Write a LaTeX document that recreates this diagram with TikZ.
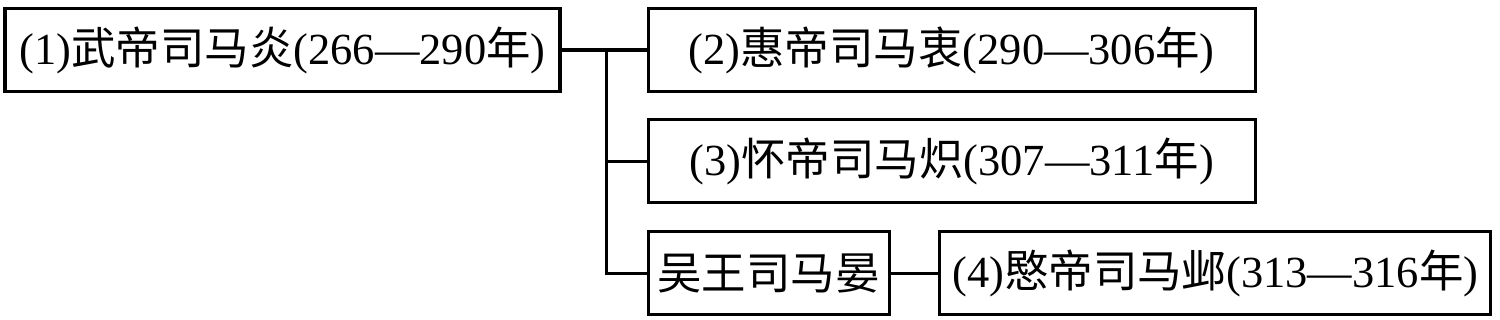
\documentclass[tikz,border=0pt]{standalone}
\usepackage{fontspec}
\setmainfont{Liberation Serif}
\newfontfamily\cjk{Noto Sans CJK SC}
\usetikzlibrary{positioning, calc}
\newcommand{\zh}[1]{{\cjk #1}}
\tikzset{
	ruler/.style={rectangle, draw=black, line width=1.8pt, minimum height=1.66cm, inner sep=2pt, align=center, font=\fontsize{25.3}{28}\selectfont},
	link/.style ={line width=1.8pt},
}

\begin{document}
\begin{tikzpicture}
	\useasboundingbox (0,0) rectangle (30,6.38);
	\node[ruler, minimum width=11.1cm] (wudi) at (5.65,5.38) {(1)\zh{武帝司马炎}(266—290\zh{年})};
	\node[ruler, minimum width=12.14cm, right=1.7cm of wudi] (huidi) {(2)\zh{惠帝司马衷}(290—306\zh{年})};
	\node[ruler, minimum width=12.14cm, below=0.5cm of huidi] (huaidi) {(3)\zh{怀帝司马炽}(307—311\zh{年})};
	\node[ruler, minimum width=4.82cm, below=0.52cm of huaidi.south west, anchor=north west] (wuwang) {\zh{吴王司马晏}};
	\node[ruler, minimum width=11.02cm, right=0.95cm of wuwang] (mindi) {(4)\zh{愍帝司马邺}(313—316\zh{年})};
	% branch point on the line out of box 1
	\coordinate (fork) at ($(wudi.east)!0.53!(huidi.west)$);
	\draw[link] (wudi) -- (huidi);
	\draw[link] (fork) |- (huaidi.west);
	\draw[link] (fork) |- (wuwang.west);
	\draw[link] (wuwang) -- (mindi);
\end{tikzpicture}
\end{document}
